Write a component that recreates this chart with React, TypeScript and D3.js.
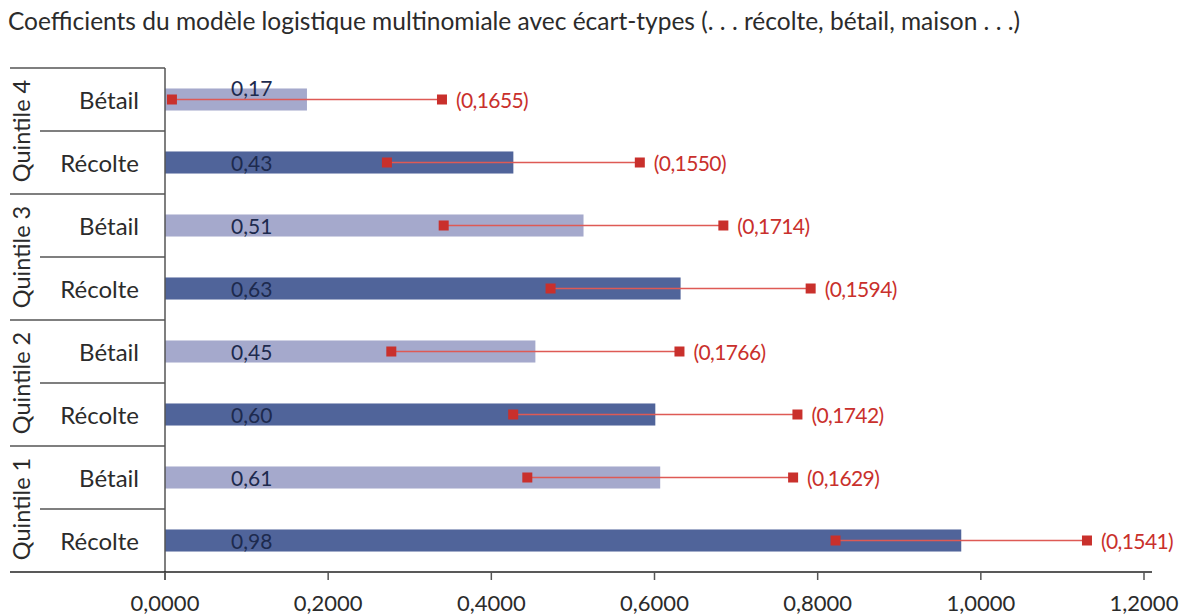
import React from "react";
import * as d3 from "d3";

const title = "Coefficients du modèle logistique multinomiale avec écart-types (. . . récolte, bétail, maison . . .)";
const quintiles = ["Quintile 4", "Quintile 3", "Quintile 2", "Quintile 1"];
const types = ["Bétail", "Récolte"];
const coefficients = [0.174, 0.427, 0.513, 0.632, 0.454, 0.601, 0.607, 0.976];
const coefLabels = ["0,17", "0,43", "0,51", "0,63", "0,45", "0,60", "0,61", "0,98"];
const stdErrors = [0.1655, 0.155, 0.1714, 0.1594, 0.1766, 0.1742, 0.1629, 0.1541];
const stdLabels = ["(0,1655)", "(0,1550)", "(0,1714)", "(0,1594)", "(0,1766)", "(0,1742)", "(0,1629)", "(0,1541)"];
const xTicks = [0, 0.2, 0.4, 0.6, 0.8, 1.0, 1.2];
const xTickLabels = ["0,0000", "0,2000", "0,4000", "0,6000", "0,8000", "1,0000", "1,2000"];

const W = 1187;
const H = 614;
const FONT = "Lato, 'Open Sans', sans-serif";

export default function App() {
  const rows = quintiles.flatMap((q) => types.map((t) => `${q}|${t}`));
  const x = d3.scaleLinear().domain([0, 1.2]).range([165, 1144]);
  const y = d3.scaleBand<string>().domain(rows).range([68, 572]).paddingInner(0.65).paddingOuter(0.325);
  const bandStep = y.step();
  const barH = y.bandwidth();

  const darkBar = "#50649a";
  const lightBar = "#a5a9cc";
  const red = "#c9302c";
  const redLine = "#de5a55";
  const textDark = "#2b2b2b";
  const valueColor = "#1d2a4e";

  return (
    <svg width={W} height={H} style={{ display: "block", position: "absolute", left: 0, top: 0, background: "#fff" }} fontFamily={FONT}>
      <text x={8} y={30} fontSize={24.5} fill={textDark}>{title}</text>

      {/* left category frame */}
      {quintiles.map((q) => {
        const top = y(`${q}|${types[0]}`)! - (bandStep - barH) / 2;
        const mid = top + bandStep;
        const bottom = top + 2 * bandStep;
        return (
          <g key={q}>
            <line x1={10} x2={165} y1={top} y2={top} stroke="#555" strokeWidth={1.5} />
            <line x1={40} x2={165} y1={mid} y2={mid} stroke="#555" strokeWidth={1.5} />
            <text
              transform={`translate(${21},${(top + bottom) / 2}) rotate(-90)`}
              textAnchor="middle"
              dominantBaseline="central"
              fontSize={23.5}
              fill={textDark}
            >
              {q}
            </text>
          </g>
        );
      })}

      {/* bars */}
      {rows.map((r, i) => {
        const t = r.split("|")[1];
        const yc = y(r)! + barH / 2;
        const lo = coefficients[i] - stdErrors[i];
        const hi = coefficients[i] + stdErrors[i];
        const labelX = 231;
        const labelOverlaps = x(lo) < labelX + 40;
        return (
          <g key={r}>
            <text x={139} y={yc} textAnchor="end" dominantBaseline="central" fontSize={24} fill={textDark}>{t}</text>
            <rect x={x(0)} y={y(r)} width={x(coefficients[i]) - x(0)} height={barH} fill={t === "Récolte" ? darkBar : lightBar} />
            <text
              x={labelX}
              y={labelOverlaps ? yc - 12 : yc}
              dominantBaseline="central"
              fontSize={21}
              fill={valueColor}
            >
              {coefLabels[i]}
            </text>
            <line x1={x(lo)} x2={x(hi)} y1={yc} y2={yc} stroke={redLine} strokeWidth={1.6} />
            <rect x={x(lo) - 5} y={yc - 5} width={10} height={10} fill={red} />
            <rect x={x(hi) - 5} y={yc - 5} width={10} height={10} fill={red} />
            <text x={x(hi) + 14} y={yc} dominantBaseline="central" fontSize={21} letterSpacing={-0.6} fill={red}>{stdLabels[i]}</text>
          </g>
        );
      })}

      {/* axes */}
      <line x1={165} x2={165} y1={68} y2={580} stroke="#555" strokeWidth={1.5} />
      <line x1={10} x2={1152} y1={572} y2={572} stroke="#222" strokeWidth={1.5} />
      {xTicks.map((v, i) => (
        <g key={v}>
          <line x1={x(v)} x2={x(v)} y1={572} y2={580} stroke="#555" strokeWidth={1.5} />
          <text x={x(v)} y={602} textAnchor="middle" dominantBaseline="central" fontSize={22} fill={textDark}>
            {xTickLabels[i]}
          </text>
        </g>
      ))}
    </svg>
  );
}
